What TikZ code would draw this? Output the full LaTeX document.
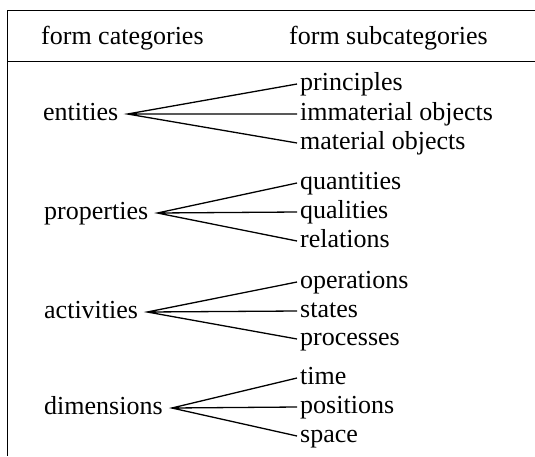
\documentclass[tikz,border=0pt]{standalone}
\usepackage{fontspec}
\setmainfont{Liberation Serif}
\usepackage{tikz}

\tikzset{
  cat/.style={anchor=west, inner ysep=0pt, inner xsep=9pt,
    text height=18.5pt, text depth=6.5pt},
  sub/.style={anchor=west, inner ysep=0pt, inner xsep=3pt,
    text height=18.5pt, text depth=6.5pt},
  fan/.style={line width=1.3pt},
  rule/.style={line width=1pt}
}

\begin{document}
\begin{tikzpicture}[x=1pt, y=-1pt, font=\fontsize{26}{30}\selectfont]
          \useasboundingbox (0,0) rectangle (535,456);
          % Draw table frame
          \draw[rule] (535,10) -- (7,10) -- (7,456);
          \draw[rule] (7,61) -- (535,61);
          % Header
          \node[cat, inner xsep=0pt] (hcat) at (41,38) {form categories};
          \node[cat, inner xsep=0pt] (hsub) at (289,38) {form subcategories};
          % Entities
          \node[cat] (ent) at (34,114) {entities};
          \node[sub] (prin) at (297,84) {principles};
          \node[sub] (immat) at (297,114) {immaterial objects};
          \node[sub] (mat) at (297,143) {material objects};
          % Properties
          \node[cat] (prop) at (35,213) {properties};
          \node[sub] (quan) at (297,183) {quantities};
          \node[sub] (qual) at (297,212) {qualities};
          \node[sub] (rel) at (297,241) {relations};
          % Activities
          \node[cat] (act) at (35,312) {activities};
          \node[sub] (oper) at (297,282) {operations};
          \node[sub] (stat) at (297,311) {states};
          \node[sub] (proc) at (297,339) {processes};
          % Dimensions
          \node[cat] (dim) at (35,408) {dimensions};
          \node[sub] (time) at (297,378) {time};
          \node[sub] (pos) at (297,407) {positions};
          \node[sub] (spac) at (297,436) {space};
          % Draw the fans
          \foreach \c/\a/\b/\d in {ent/prin/immat/mat, prop/quan/qual/rel,
                                   act/oper/stat/proc, dim/time/pos/spac}
            \draw[fan] (\a.west) -- (\c.east) -- (\d.west)
                       (\c.east) -- (\b.west);
        \end{tikzpicture}
\end{document}
